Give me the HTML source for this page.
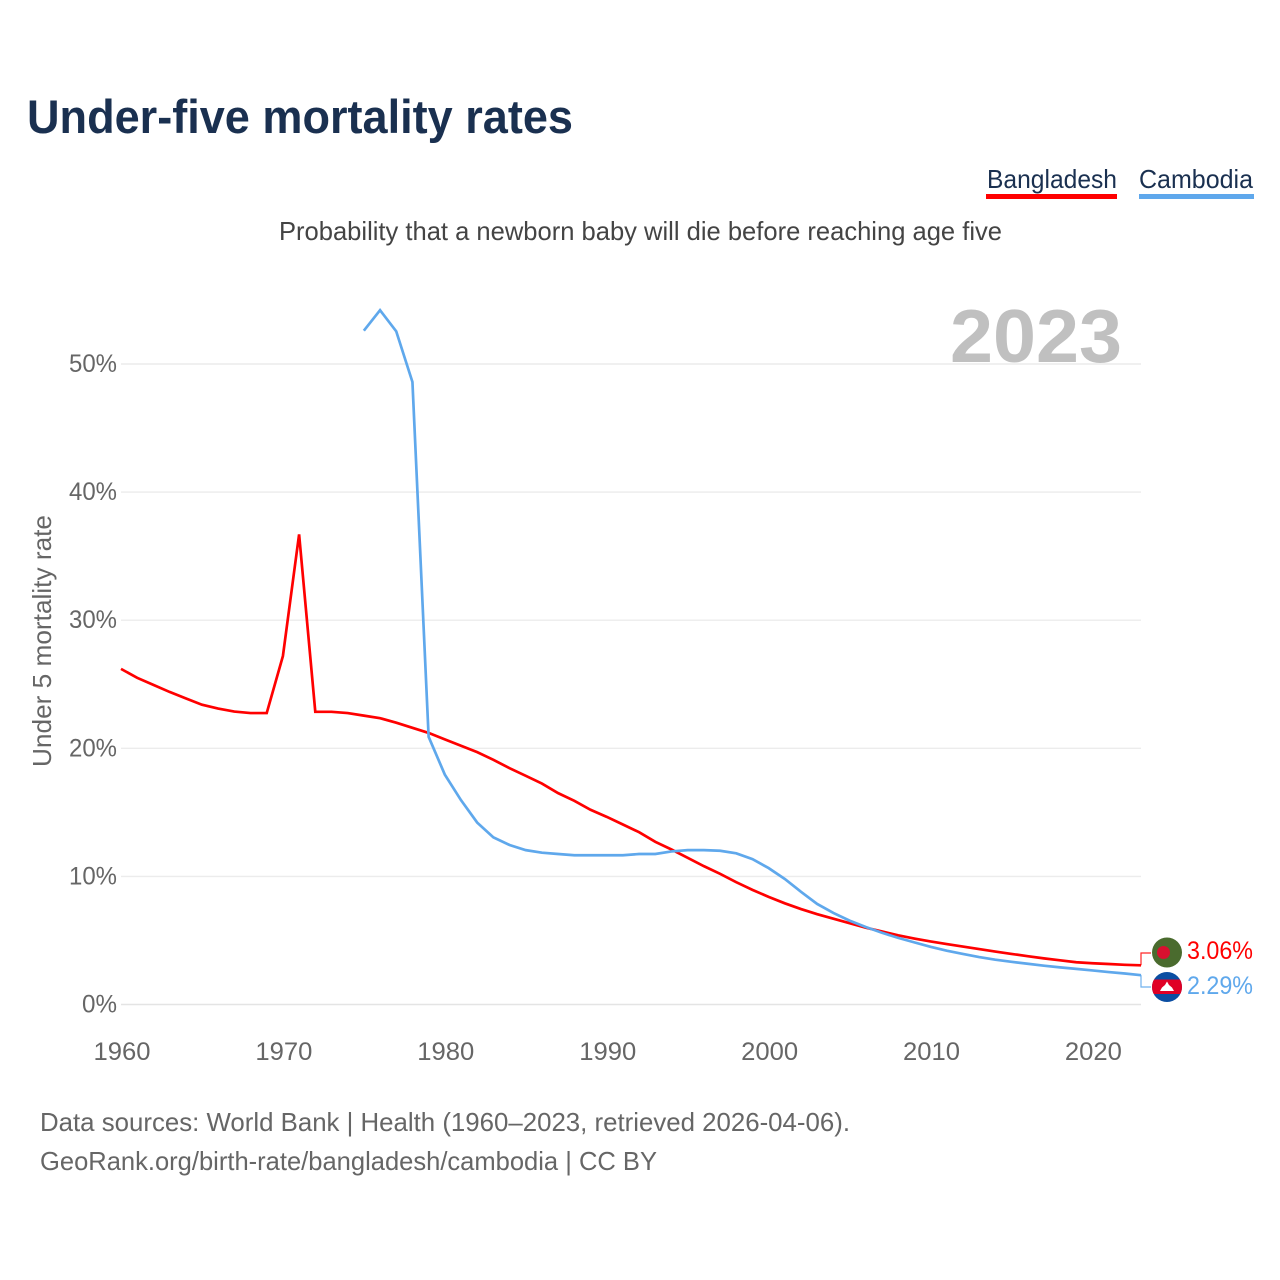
<!DOCTYPE html>
<html lang="en">
<head>
<meta charset="utf-8">
<title>Under-five mortality rates</title>
<style>
html,body{margin:0;padding:0;background:#fff;width:1280px;height:1280px;overflow:hidden}
svg{display:block;font-family:"Liberation Sans",sans-serif}
</style>
</head>
<body>
<svg id="chart" xmlns="http://www.w3.org/2000/svg" width="1280" height="1280" viewBox="0 0 1280 1280">
  <defs>
    <clipPath id="flag-clip-kh"><circle cx="1167" cy="987" r="15"/></clipPath>
  </defs>
  <rect x="0" y="0" width="1280" height="1280" fill="#ffffff"/>
  <text x="27" y="133" font-size="47" font-weight="700" fill="#1a3050" textLength="546" lengthAdjust="spacingAndGlyphs">Under-five mortality rates</text>

  <text x="987" y="188" font-size="26" fill="#1a3050" textLength="130" lengthAdjust="spacingAndGlyphs">Bangladesh</text>
  <rect x="986" y="194" width="131" height="5" fill="#ff0000"/>
  <text x="1139" y="188" font-size="26" fill="#1a3050" textLength="114" lengthAdjust="spacingAndGlyphs">Cambodia</text>
  <rect x="1139" y="194" width="115" height="5" fill="#5fa8ec"/>

  <text x="279" y="240" font-size="26" fill="#444444" textLength="723" lengthAdjust="spacingAndGlyphs">Probability that a newborn baby will die before reaching age five</text>

  <g id="grid"></g>
  <text x="950" y="362" font-size="75" font-weight="700" fill="#c0c0c0" textLength="172" lengthAdjust="spacingAndGlyphs">2023</text>
  <g id="yticks"></g>
  <g id="xticks"></g>
  <text transform="translate(51,767) rotate(-90)" x="0" y="0" font-size="26" fill="#666666" textLength="252" lengthAdjust="spacingAndGlyphs">Under 5 mortality rate</text>

  <g id="series"></g>

  <g>
    <circle cx="1167" cy="952.5" r="15" fill="#4a6b2e"/>
    <circle cx="1163.5" cy="952.5" r="6.5" fill="#d8102f"/>
  </g>
  <g clip-path="url(#flag-clip-kh)">
    <rect x="1152" y="972" width="30" height="30" fill="#0b4ea2"/>
    <rect x="1152" y="979.5" width="30" height="14.5" fill="#e00025"/>
    <polygon points="1160,991 1174,991 1172,987.5 1169,985 1167,981.5 1165,985 1162,987.5" fill="#ffffff"/>
  </g>
  <text x="1187" y="959" font-size="25" fill="#ff0000" textLength="66" lengthAdjust="spacingAndGlyphs">3.06%</text>
  <text x="1187" y="994" font-size="25" fill="#5fa8ec" textLength="66" lengthAdjust="spacingAndGlyphs">2.29%</text>

  <text x="40" y="1131" font-size="26" fill="#666666" textLength="810" lengthAdjust="spacingAndGlyphs">Data sources: World Bank | Health (1960–2023, retrieved 2026-04-06).</text>
  <text x="40" y="1170" font-size="26" fill="#666666" textLength="617" lengthAdjust="spacingAndGlyphs">GeoRank.org/birth-rate/bangladesh/cambodia | CC BY</text>
</svg>
<script>
const yTickValues = [0, 10, 20, 30, 40, 50];
const yTickLabels = ["0%", "10%", "20%", "30%", "40%", "50%"];
const xTickYears = [1960, 1970, 1980, 1990, 2000, 2010, 2020];
const xTickLabels = ["1960", "1970", "1980", "1990", "2000", "2010", "2020"];
const bangladeshStartYear = 1960;
const bangladeshValues = [26.2,25.5,24.95,24.4,23.9,23.4,23.1,22.87,22.75,22.75,27.2,36.7,22.85,22.85,22.75,22.55,22.35,22.0,21.6,21.2,20.7,20.2,19.7,19.1,18.45,17.85,17.25,16.5,15.9,15.2,14.65,14.05,13.45,12.7,12.1,11.45,10.8,10.2,9.55,8.95,8.4,7.9,7.45,7.05,6.7,6.35,6.0,5.7,5.4,5.15,4.92,4.72,4.52,4.33,4.13,3.95,3.77,3.6,3.45,3.3,3.22,3.16,3.1,3.06];
const cambodiaStartYear = 1975;
const cambodiaValues = [52.6,54.2,52.55,48.6,20.9,17.95,15.95,14.2,13.05,12.45,12.05,11.85,11.75,11.65,11.65,11.65,11.65,11.75,11.75,11.95,12.05,12.05,12.0,11.8,11.35,10.65,9.8,8.8,7.85,7.15,6.55,6.05,5.6,5.2,4.85,4.5,4.2,3.95,3.7,3.5,3.33,3.18,3.03,2.9,2.78,2.66,2.53,2.42,2.29];

const SVG_NS = "http://www.w3.org/2000/svg";
function xScale(year) { return 121 + (year - 1960) * (1141 - 121) / 63; }
function yScale(value) { return 1004.5 - value * 12.81; }
function make(tag, attrs, parent) {
  const el = document.createElementNS(SVG_NS, tag);
  for (const k in attrs) el.setAttribute(k, attrs[k]);
  parent.appendChild(el);
  return el;
}
const gridGroup = document.getElementById("grid");
const yTickGroup = document.getElementById("yticks");
const xTickGroup = document.getElementById("xticks");
const seriesGroup = document.getElementById("series");

yTickValues.forEach(function (v, i) {
  const line = make("line", {x1: 121, x2: 1141, y1: yScale(v), y2: yScale(v), stroke: v === 0 ? "#e4e4e4" : "#ececec", "stroke-width": 1.4}, gridGroup);
  
  
  const label = make("text", {x: 117, y: yScale(v) + 8, "text-anchor": "end", "font-size": 25, fill: "#666666"}, yTickGroup);
  label.textContent = yTickLabels[i];
  label.setAttribute('textLength', String(yTickLabels[i].length === 2 ? 35 : 48));
  label.setAttribute('lengthAdjust', 'spacingAndGlyphs');
  
  
});

xTickYears.forEach(function (yr, i) {
  const label = make("text", {x: xScale(yr) + 1, y: 1060, "text-anchor": "middle", "font-size": 25, fill: "#666666", textLength: 57, lengthAdjust: "spacingAndGlyphs"}, xTickGroup);
  label.textContent = xTickLabels[i];
  
  
});

function linePoints(startYear, values) {
  return values.map(function (v, i) { return xScale(startYear + i).toFixed(2) + "," + yScale(v).toFixed(2); }).join(" ");
}
function lastY(values) { return yScale(values[values.length - 1]); }

const connectorBd = make("polyline", {points: "1141," + lastY(bangladeshValues).toFixed(2) + " 1141,953 1151,953", fill: "none", stroke: "#ff0000", "stroke-width": 1.2, opacity: 0.85}, seriesGroup);


const connectorKh = make("polyline", {points: "1141," + lastY(cambodiaValues).toFixed(2) + " 1141,987 1151,987", fill: "none", stroke: "#5fa8ec", "stroke-width": 1.2, opacity: 0.9}, seriesGroup);



const lineBd = make("polyline", {points: linePoints(bangladeshStartYear, bangladeshValues), fill: "none", stroke: "#ff0000", "stroke-width": 2.7, "stroke-linejoin": "miter"}, seriesGroup);


const lineKh = make("polyline", {points: linePoints(cambodiaStartYear, cambodiaValues), fill: "none", stroke: "#5fa8ec", "stroke-width": 2.7, "stroke-linejoin": "miter"}, seriesGroup);


</script>
</body>
</html>
